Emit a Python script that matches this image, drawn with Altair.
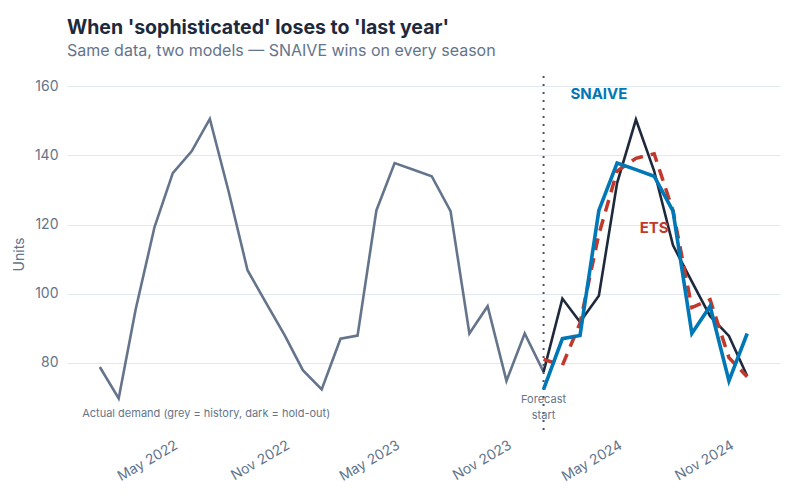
import altair as alt
import pandas as pd

# ---- data ----
history_start = "2022-01-01"
history_units = [78.8, 69.7, 95.5, 119.3, 134.9, 141.2, 150.6, 129.5, 106.8, 97.5, 88.0, 77.9,
                 72.3, 87.0, 87.9, 124.1, 137.8, 135.9, 134.0, 123.9, 88.5, 96.4, 74.8, 88.5,
                 77.4]
holdout_start = "2024-01-01"
holdout_units = [77.4, 98.6, 91.8, 99.4, 132.0, 150.4, 135.5, 114.0, 103.5, 93.5, 87.8, 76.2]
snaive_units = [72.3, 87.0, 87.9, 124.1, 137.8, 135.9, 134.0, 123.9, 88.5, 96.4, 74.8, 88.5]
ets_units = [81.0, 79.3, 91.5, 117.2, 135.5, 139.2, 140.5, 124.0, 96.0, 98.3, 81.5, 76.0]

forecast_start = ["2024-01-01"]
y_ticks = [80, 100, 120, 140, 160]

model_labels = ["SNAIVE", "ETS"]
model_label_dates = ["2024-04-01", "2024-07-01"]
model_label_units = [157.9, 118.9]

start_labels = ["Forecast", "start"]
start_label_units = [69.2, 64.6]

note_text = ["Actual demand (grey = history, dark = hold-out)"]
note_date = ["2021-12-03"]
note_units = [65.2]

# ---- styles ----
FONT = "Inter"
GREY = "#64748b"
DARK = "#1e293b"
BLUE = "#0077b6"
RED = "#c0392b"
GRID = "#e2e8f0"

hist = pd.DataFrame({"date": pd.date_range(history_start, periods=len(history_units), freq="MS"),
                     "units": history_units})
hold_dates = pd.date_range(holdout_start, periods=len(holdout_units), freq="MS")
hold = pd.DataFrame({"date": hold_dates, "units": holdout_units})
snaive = pd.DataFrame({"date": hold_dates, "units": snaive_units})
ets = pd.DataFrame({"date": hold_dates, "units": ets_units})
rule_df = pd.DataFrame({"date": pd.to_datetime(forecast_start)})
lab_df = pd.DataFrame({"label": model_labels, "date": pd.to_datetime(model_label_dates),
                       "units": model_label_units, "color": [BLUE, RED]})
start_df = pd.DataFrame({"label": start_labels,
                         "date": pd.to_datetime(forecast_start * 2),
                         "units": start_label_units})
note_df = pd.DataFrame({"label": note_text, "date": pd.to_datetime(note_date), "units": note_units})

x_scale = alt.Scale(domain=[alt.DateTime(year=2021, month=11, date=8),
                            alt.DateTime(year=2025, month=1, date=24)], nice=False)
y_scale = alt.Scale(domain=[60, 163], nice=False, zero=False)

x_enc = alt.X("date:T", scale=x_scale, title=None,
              axis=alt.Axis(values=[alt.DateTime(year=y, month=m, date=1)
                                    for y in (2022, 2023, 2024) for m in (5, 11)],
                            format="%b %Y", labelAngle=-30, grid=False, domain=False,
                            ticks=False, labelPadding=6, labelFontSize=14,
                            labelColor=GREY, labelFont=FONT))
y_enc = alt.Y("units:Q", scale=y_scale, title="Units",
              axis=alt.Axis(values=y_ticks, grid=True, gridColor=GRID, domain=False,
                            ticks=False, labelPadding=9, labelFontSize=14, labelColor=GREY,
                            labelFont=FONT, titleFont=FONT, titleFontSize=14,
                            titleFontWeight="normal", titleColor=GREY, titlePadding=8))

base_x = alt.X("date:T", scale=x_scale)
base_y = alt.Y("units:Q", scale=y_scale)

hist_line = alt.Chart(hist).mark_line(color=GREY, strokeWidth=2.6).encode(x=x_enc, y=y_enc)
hold_line = alt.Chart(hold).mark_line(color=DARK, strokeWidth=2.6).encode(x=base_x, y=base_y)
ets_line = alt.Chart(ets).mark_line(color=RED, strokeWidth=3.5, strokeDash=[12, 8]).encode(
    x=base_x, y=base_y)
snaive_line = alt.Chart(snaive).mark_line(color=BLUE, strokeWidth=3.6).encode(x=base_x, y=base_y)

rule = alt.Chart(rule_df).mark_rule(color="#475569", strokeWidth=2, strokeDash=[2, 6]).encode(
    x=base_x)

model_text = alt.Chart(lab_df).mark_text(font=FONT, fontSize=15, fontWeight="bold",
                                         align="center", baseline="middle").encode(
    x=base_x, y=base_y, text="label:N", color=alt.Color("color:N", scale=None))
start_text = alt.Chart(start_df).mark_text(font=FONT, fontSize=11, color=GREY,
                                           align="center", baseline="middle").encode(
    x=base_x, y=base_y, text="label:N")
note = alt.Chart(note_df).mark_text(font=FONT, fontSize=11, color=GREY,
                                    align="left", baseline="middle").encode(
    x=base_x, y=base_y, text="label:N")

chart = alt.layer(hist_line, hold_line, rule, ets_line, snaive_line,
                  model_text, start_text, note).properties(
    width=713, height=356,
    view=alt.ViewBackground(stroke="transparent", strokeOpacity=0, strokeWidth=0),
    autosize=alt.AutoSizeParams(type="none"),
    padding={"left": 59, "top": 68, "right": 12, "bottom": 52},
    title=alt.TitleParams(
        text="When 'sophisticated' loses to 'last year'",
        subtitle="Same data, two models \u2014 SNAIVE wins on every season",
        anchor="start", frame="group", font=FONT, fontSize=19.5, fontWeight="bold",
        color=DARK, subtitleFont=FONT, subtitleFontSize=16, subtitleColor=GREY,
        subtitlePadding=5, offset=15),
).configure_view(strokeWidth=0, strokeOpacity=0, stroke="transparent").configure(
    background="white")

chart.save("out.html", embed_options={"renderer": "svg", "actions": False})
